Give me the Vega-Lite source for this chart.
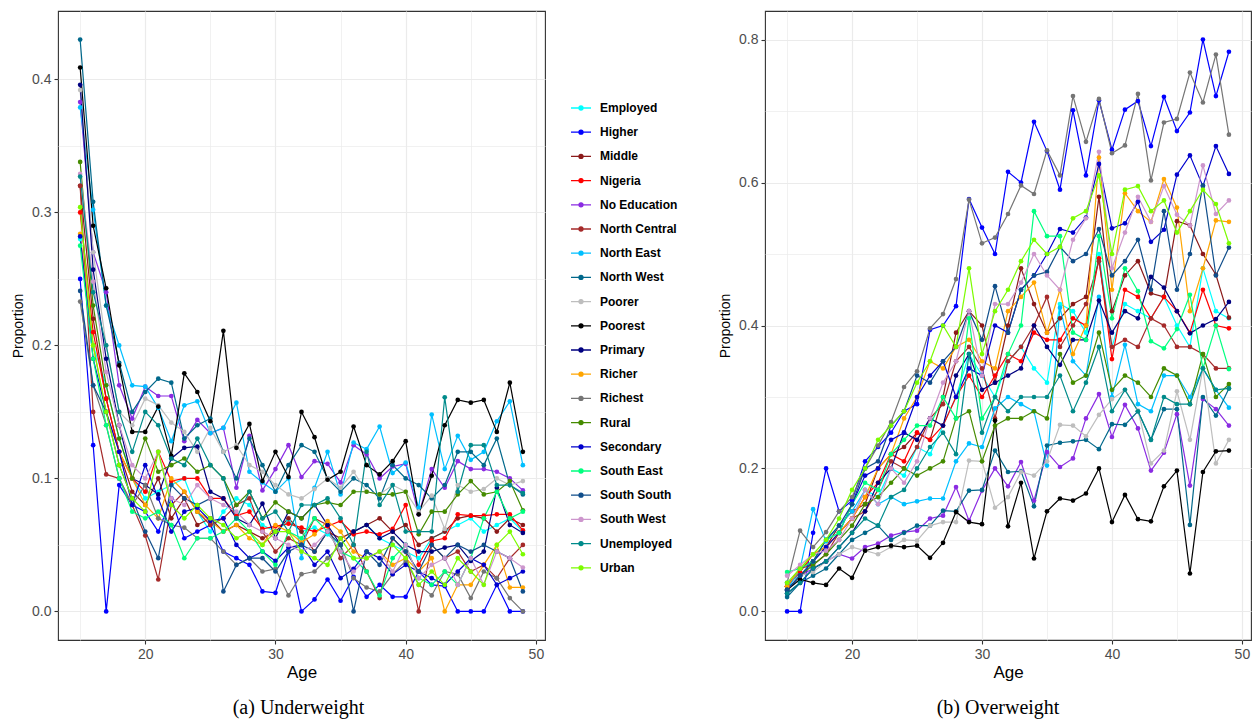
{
  "$schema": "https://vega.github.io/schema/vega-lite/v6.json",
  "background": "white",
  "padding": {"left": 10, "top": 10, "right": 0, "bottom": 0},
  "data": {"values": [
{"g":"Employed","a":15,"u":0.28,"o":0.04},{"g":"Employed","a":16,"u":0.2,"o":0.05},{"g":"Employed","a":17,"u":0.17,"o":0.07},{"g":"Employed","a":18,"u":0.13,"o":0.09},{"g":"Employed","a":19,"u":0.1,"o":0.11},{"g":"Employed","a":20,"u":0.085,"o":0.13},{"g":"Employed","a":21,"u":0.09,"o":0.17},{"g":"Employed","a":22,"u":0.095,"o":0.16},{"g":"Employed","a":23,"u":0.1,"o":0.2},{"g":"Employed","a":24,"u":0.075,"o":0.19},{"g":"Employed","a":25,"u":0.06,"o":0.23},{"g":"Employed","a":26,"u":0.075,"o":0.22},{"g":"Employed","a":27,"u":0.085,"o":0.26},{"g":"Employed","a":28,"u":0.08,"o":0.3},{"g":"Employed","a":29,"u":0.065,"o":0.36},{"g":"Employed","a":30,"u":0.06,"o":0.33},{"g":"Employed","a":31,"u":0.068,"o":0.3},{"g":"Employed","a":32,"u":0.06,"o":0.35},{"g":"Employed","a":33,"u":0.063,"o":0.37},{"g":"Employed","a":34,"u":0.058,"o":0.34},{"g":"Employed","a":35,"u":0.05,"o":0.32},{"g":"Employed","a":36,"u":0.06,"o":0.43},{"g":"Employed","a":37,"u":0.065,"o":0.42},{"g":"Employed","a":38,"u":0.055,"o":0.39},{"g":"Employed","a":39,"u":0.05,"o":0.5},{"g":"Employed","a":40,"u":0.045,"o":0.37},{"g":"Employed","a":41,"u":0.04,"o":0.43},{"g":"Employed","a":42,"u":0.055,"o":0.42},{"g":"Employed","a":43,"u":0.06,"o":0.41},{"g":"Employed","a":44,"u":0.065,"o":0.44},{"g":"Employed","a":45,"u":0.07,"o":0.4},{"g":"Employed","a":46,"u":0.06,"o":0.37},{"g":"Employed","a":47,"u":0.065,"o":0.48},{"g":"Employed","a":48,"u":0.07,"o":0.42},{"g":"Employed","a":49,"u":0.06,"o":0.41},
{"g":"Higher","a":15,"u":0.25,"o":0.0},{"g":"Higher","a":16,"u":0.125,"o":0.0},{"g":"Higher","a":17,"u":0.0,"o":0.11},{"g":"Higher","a":18,"u":0.095,"o":0.2},{"g":"Higher","a":19,"u":0.08,"o":0.14},{"g":"Higher","a":20,"u":0.075,"o":0.155},{"g":"Higher","a":21,"u":0.06,"o":0.21},{"g":"Higher","a":22,"u":0.085,"o":0.23},{"g":"Higher","a":23,"u":0.055,"o":0.25},{"g":"Higher","a":24,"u":0.06,"o":0.28},{"g":"Higher","a":25,"u":0.065,"o":0.29},{"g":"Higher","a":26,"u":0.045,"o":0.394},{"g":"Higher","a":27,"u":0.04,"o":0.4},{"g":"Higher","a":28,"u":0.035,"o":0.427},{"g":"Higher","a":29,"u":0.015,"o":0.577},{"g":"Higher","a":30,"u":0.014,"o":0.537},{"g":"Higher","a":31,"u":0.045,"o":0.5},{"g":"Higher","a":32,"u":0.0,"o":0.615},{"g":"Higher","a":33,"u":0.009,"o":0.6},{"g":"Higher","a":34,"u":0.024,"o":0.685},{"g":"Higher","a":35,"u":0.008,"o":0.644},{"g":"Higher","a":36,"u":0.026,"o":0.59},{"g":"Higher","a":37,"u":0.011,"o":0.701},{"g":"Higher","a":38,"u":0.02,"o":0.61},{"g":"Higher","a":39,"u":0.011,"o":0.715},{"g":"Higher","a":40,"u":0.011,"o":0.646},{"g":"Higher","a":41,"u":0.03,"o":0.702},{"g":"Higher","a":42,"u":0.02,"o":0.714},{"g":"Higher","a":43,"u":0.019,"o":0.651},{"g":"Higher","a":44,"u":0.0,"o":0.72},{"g":"Higher","a":45,"u":0.0,"o":0.672},{"g":"Higher","a":46,"u":0.0,"o":0.698},{"g":"Higher","a":47,"u":0.02,"o":0.8},{"g":"Higher","a":48,"u":0.0,"o":0.721},{"g":"Higher","a":49,"u":0.0,"o":0.783},
{"g":"Middle","a":15,"u":0.32,"o":0.035},{"g":"Middle","a":16,"u":0.22,"o":0.06},{"g":"Middle","a":17,"u":0.16,"o":0.07},{"g":"Middle","a":18,"u":0.12,"o":0.09},{"g":"Middle","a":19,"u":0.09,"o":0.12},{"g":"Middle","a":20,"u":0.08,"o":0.14},{"g":"Middle","a":21,"u":0.1,"o":0.15},{"g":"Middle","a":22,"u":0.07,"o":0.2},{"g":"Middle","a":23,"u":0.085,"o":0.22},{"g":"Middle","a":24,"u":0.065,"o":0.23},{"g":"Middle","a":25,"u":0.07,"o":0.25},{"g":"Middle","a":26,"u":0.06,"o":0.24},{"g":"Middle","a":27,"u":0.065,"o":0.3},{"g":"Middle","a":28,"u":0.06,"o":0.39},{"g":"Middle","a":29,"u":0.055,"o":0.42},{"g":"Middle","a":30,"u":0.06,"o":0.4},{"g":"Middle","a":31,"u":0.07,"o":0.32},{"g":"Middle","a":32,"u":0.06,"o":0.4},{"g":"Middle","a":33,"u":0.045,"o":0.48},{"g":"Middle","a":34,"u":0.06,"o":0.43},{"g":"Middle","a":35,"u":0.055,"o":0.39},{"g":"Middle","a":36,"u":0.06,"o":0.41},{"g":"Middle","a":37,"u":0.065,"o":0.43},{"g":"Middle","a":38,"u":0.07,"o":0.44},{"g":"Middle","a":39,"u":0.06,"o":0.58},{"g":"Middle","a":40,"u":0.065,"o":0.42},{"g":"Middle","a":41,"u":0.05,"o":0.47},{"g":"Middle","a":42,"u":0.055,"o":0.49},{"g":"Middle","a":43,"u":0.06,"o":0.445},{"g":"Middle","a":44,"u":0.07,"o":0.44},{"g":"Middle","a":45,"u":0.072,"o":0.546},{"g":"Middle","a":46,"u":0.07,"o":0.54},{"g":"Middle","a":47,"u":0.06,"o":0.5},{"g":"Middle","a":48,"u":0.07,"o":0.471},{"g":"Middle","a":49,"u":0.065,"o":0.411},
{"g":"Nigeria","a":15,"u":0.3,"o":0.035},{"g":"Nigeria","a":16,"u":0.21,"o":0.055},{"g":"Nigeria","a":17,"u":0.16,"o":0.08},{"g":"Nigeria","a":18,"u":0.12,"o":0.09},{"g":"Nigeria","a":19,"u":0.1,"o":0.11},{"g":"Nigeria","a":20,"u":0.09,"o":0.13},{"g":"Nigeria","a":21,"u":0.12,"o":0.16},{"g":"Nigeria","a":22,"u":0.098,"o":0.18},{"g":"Nigeria","a":23,"u":0.1,"o":0.22},{"g":"Nigeria","a":24,"u":0.1,"o":0.21},{"g":"Nigeria","a":25,"u":0.085,"o":0.25},{"g":"Nigeria","a":26,"u":0.085,"o":0.24},{"g":"Nigeria","a":27,"u":0.072,"o":0.26},{"g":"Nigeria","a":28,"u":0.075,"o":0.3},{"g":"Nigeria","a":29,"u":0.062,"o":0.33},{"g":"Nigeria","a":30,"u":0.064,"o":0.3},{"g":"Nigeria","a":31,"u":0.066,"o":0.33},{"g":"Nigeria","a":32,"u":0.063,"o":0.36},{"g":"Nigeria","a":33,"u":0.06,"o":0.35},{"g":"Nigeria","a":34,"u":0.064,"o":0.39},{"g":"Nigeria","a":35,"u":0.068,"o":0.38},{"g":"Nigeria","a":36,"u":0.058,"o":0.38},{"g":"Nigeria","a":37,"u":0.06,"o":0.41},{"g":"Nigeria","a":38,"u":0.058,"o":0.4},{"g":"Nigeria","a":39,"u":0.062,"o":0.494},{"g":"Nigeria","a":40,"u":0.08,"o":0.353},{"g":"Nigeria","a":41,"u":0.035,"o":0.45},{"g":"Nigeria","a":42,"u":0.053,"o":0.44},{"g":"Nigeria","a":43,"u":0.055,"o":0.41},{"g":"Nigeria","a":44,"u":0.073,"o":0.44},{"g":"Nigeria","a":45,"u":0.072,"o":0.42},{"g":"Nigeria","a":46,"u":0.072,"o":0.39},{"g":"Nigeria","a":47,"u":0.073,"o":0.45},{"g":"Nigeria","a":48,"u":0.073,"o":0.4},{"g":"Nigeria","a":49,"u":0.061,"o":0.396},
{"g":"No Education","a":15,"u":0.383,"o":0.03},{"g":"No Education","a":16,"u":0.27,"o":0.05},{"g":"No Education","a":17,"u":0.24,"o":0.06},{"g":"No Education","a":18,"u":0.17,"o":0.07},{"g":"No Education","a":19,"u":0.145,"o":0.08},{"g":"No Education","a":20,"u":0.169,"o":0.074},{"g":"No Education","a":21,"u":0.162,"o":0.09},{"g":"No Education","a":22,"u":0.162,"o":0.095},{"g":"No Education","a":23,"u":0.128,"o":0.106},{"g":"No Education","a":24,"u":0.144,"o":0.111},{"g":"No Education","a":25,"u":0.134,"o":0.113},{"g":"No Education","a":26,"u":0.138,"o":0.13},{"g":"No Education","a":27,"u":0.093,"o":0.134},{"g":"No Education","a":28,"u":0.132,"o":0.174},{"g":"No Education","a":29,"u":0.091,"o":0.127},{"g":"No Education","a":30,"u":0.107,"o":0.169},{"g":"No Education","a":31,"u":0.125,"o":0.2},{"g":"No Education","a":32,"u":0.101,"o":0.175},{"g":"No Education","a":33,"u":0.113,"o":0.209},{"g":"No Education","a":34,"u":0.111,"o":0.155},{"g":"No Education","a":35,"u":0.097,"o":0.223},{"g":"No Education","a":36,"u":0.125,"o":0.202},{"g":"No Education","a":37,"u":0.118,"o":0.214},{"g":"No Education","a":38,"u":0.1,"o":0.27},{"g":"No Education","a":39,"u":0.109,"o":0.304},{"g":"No Education","a":40,"u":0.111,"o":0.244},{"g":"No Education","a":41,"u":0.073,"o":0.289},{"g":"No Education","a":42,"u":0.107,"o":0.256},{"g":"No Education","a":43,"u":0.093,"o":0.197},{"g":"No Education","a":44,"u":0.113,"o":0.222},{"g":"No Education","a":45,"u":0.107,"o":0.276},{"g":"No Education","a":46,"u":0.107,"o":0.176},{"g":"No Education","a":47,"u":0.105,"o":0.297},{"g":"No Education","a":48,"u":0.1,"o":0.283},{"g":"No Education","a":49,"u":0.091,"o":0.26},
{"g":"North Central","a":15,"u":0.32,"o":0.035},{"g":"North Central","a":16,"u":0.15,"o":0.06},{"g":"North Central","a":17,"u":0.103,"o":0.065},{"g":"North Central","a":18,"u":0.1,"o":0.08},{"g":"North Central","a":19,"u":0.08,"o":0.11},{"g":"North Central","a":20,"u":0.057,"o":0.13},{"g":"North Central","a":21,"u":0.024,"o":0.14},{"g":"North Central","a":22,"u":0.08,"o":0.17},{"g":"North Central","a":23,"u":0.09,"o":0.21},{"g":"North Central","a":24,"u":0.075,"o":0.2},{"g":"North Central","a":25,"u":0.065,"o":0.23},{"g":"North Central","a":26,"u":0.07,"o":0.27},{"g":"North Central","a":27,"u":0.08,"o":0.29},{"g":"North Central","a":28,"u":0.085,"o":0.35},{"g":"North Central","a":29,"u":0.06,"o":0.37},{"g":"North Central","a":30,"u":0.045,"o":0.34},{"g":"North Central","a":31,"u":0.055,"o":0.27},{"g":"North Central","a":32,"u":0.05,"o":0.35},{"g":"North Central","a":33,"u":0.07,"o":0.37},{"g":"North Central","a":34,"u":0.065,"o":0.4},{"g":"North Central","a":35,"u":0.04,"o":0.44},{"g":"North Central","a":36,"u":0.05,"o":0.37},{"g":"North Central","a":37,"u":0.03,"o":0.4},{"g":"North Central","a":38,"u":0.01,"o":0.43},{"g":"North Central","a":39,"u":0.055,"o":0.49},{"g":"North Central","a":40,"u":0.045,"o":0.37},{"g":"North Central","a":41,"u":0.0,"o":0.38},{"g":"North Central","a":42,"u":0.05,"o":0.37},{"g":"North Central","a":43,"u":0.04,"o":0.41},{"g":"North Central","a":44,"u":0.045,"o":0.4},{"g":"North Central","a":45,"u":0.03,"o":0.37},{"g":"North Central","a":46,"u":0.035,"o":0.37},{"g":"North Central","a":47,"u":0.025,"o":0.36},{"g":"North Central","a":48,"u":0.04,"o":0.34},{"g":"North Central","a":49,"u":0.05,"o":0.34},
{"g":"North East","a":15,"u":0.379,"o":0.03},{"g":"North East","a":16,"u":0.302,"o":0.06},{"g":"North East","a":17,"u":0.23,"o":0.143},{"g":"North East","a":18,"u":0.2,"o":0.098},{"g":"North East","a":19,"u":0.17,"o":0.12},{"g":"North East","a":20,"u":0.169,"o":0.14},{"g":"North East","a":21,"u":0.153,"o":0.17},{"g":"North East","a":22,"u":0.128,"o":0.15},{"g":"North East","a":23,"u":0.155,"o":0.16},{"g":"North East","a":24,"u":0.158,"o":0.15},{"g":"North East","a":25,"u":0.134,"o":0.154},{"g":"North East","a":26,"u":0.138,"o":0.158},{"g":"North East","a":27,"u":0.157,"o":0.158},{"g":"North East","a":28,"u":0.105,"o":0.21},{"g":"North East","a":29,"u":0.097,"o":0.235},{"g":"North East","a":30,"u":0.09,"o":0.23},{"g":"North East","a":31,"u":0.1,"o":0.284},{"g":"North East","a":32,"u":0.04,"o":0.3},{"g":"North East","a":33,"u":0.093,"o":0.29},{"g":"North East","a":34,"u":0.12,"o":0.28},{"g":"North East","a":35,"u":0.088,"o":0.204},{"g":"North East","a":36,"u":0.127,"o":0.425},{"g":"North East","a":37,"u":0.122,"o":0.35},{"g":"North East","a":38,"u":0.139,"o":0.33},{"g":"North East","a":39,"u":0.104,"o":0.44},{"g":"North East","a":40,"u":0.112,"o":0.3},{"g":"North East","a":41,"u":0.078,"o":0.373},{"g":"North East","a":42,"u":0.148,"o":0.29},{"g":"North East","a":43,"u":0.107,"o":0.28},{"g":"North East","a":44,"u":0.132,"o":0.33},{"g":"North East","a":45,"u":0.114,"o":0.33},{"g":"North East","a":46,"u":0.12,"o":0.3},{"g":"North East","a":47,"u":0.143,"o":0.34},{"g":"North East","a":48,"u":0.158,"o":0.31},{"g":"North East","a":49,"u":0.11,"o":0.285},
{"g":"North West","a":15,"u":0.43,"o":0.02},{"g":"North West","a":16,"u":0.308,"o":0.04},{"g":"North West","a":17,"u":0.23,"o":0.05},{"g":"North West","a":18,"u":0.187,"o":0.06},{"g":"North West","a":19,"u":0.15,"o":0.08},{"g":"North West","a":20,"u":0.165,"o":0.1},{"g":"North West","a":21,"u":0.175,"o":0.11},{"g":"North West","a":22,"u":0.172,"o":0.12},{"g":"North West","a":23,"u":0.13,"o":0.1},{"g":"North West","a":24,"u":0.14,"o":0.11},{"g":"North West","a":25,"u":0.145,"o":0.12},{"g":"North West","a":26,"u":0.12,"o":0.12},{"g":"North West","a":27,"u":0.1,"o":0.141},{"g":"North West","a":28,"u":0.13,"o":0.14},{"g":"North West","a":29,"u":0.11,"o":0.169},{"g":"North West","a":30,"u":0.09,"o":0.17},{"g":"North West","a":31,"u":0.11,"o":0.225},{"g":"North West","a":32,"u":0.125,"o":0.195},{"g":"North West","a":33,"u":0.12,"o":0.196},{"g":"North West","a":34,"u":0.1,"o":0.147},{"g":"North West","a":35,"u":0.09,"o":0.232},{"g":"North West","a":36,"u":0.1,"o":0.236},{"g":"North West","a":37,"u":0.095,"o":0.238},{"g":"North West","a":38,"u":0.085,"o":0.24},{"g":"North West","a":39,"u":0.11,"o":0.227},{"g":"North West","a":40,"u":0.1,"o":0.262},{"g":"North West","a":41,"u":0.095,"o":0.261},{"g":"North West","a":42,"u":0.085,"o":0.28},{"g":"North West","a":43,"u":0.095,"o":0.24},{"g":"North West","a":44,"u":0.12,"o":0.283},{"g":"North West","a":45,"u":0.12,"o":0.283},{"g":"North West","a":46,"u":0.11,"o":0.121},{"g":"North West","a":47,"u":0.13,"o":0.3},{"g":"North West","a":48,"u":0.095,"o":0.274},{"g":"North West","a":49,"u":0.088,"o":0.312},
{"g":"Poorer","a":15,"u":0.392,"o":0.03},{"g":"Poorer","a":16,"u":0.27,"o":0.05},{"g":"Poorer","a":17,"u":0.2,"o":0.055},{"g":"Poorer","a":18,"u":0.15,"o":0.07},{"g":"Poorer","a":19,"u":0.14,"o":0.08},{"g":"Poorer","a":20,"u":0.16,"o":0.09},{"g":"Poorer","a":21,"u":0.155,"o":0.085},{"g":"Poorer","a":22,"u":0.142,"o":0.08},{"g":"Poorer","a":23,"u":0.135,"o":0.09},{"g":"Poorer","a":24,"u":0.12,"o":0.1},{"g":"Poorer","a":25,"u":0.138,"o":0.099},{"g":"Poorer","a":26,"u":0.12,"o":0.12},{"g":"Poorer","a":27,"u":0.125,"o":0.125},{"g":"Poorer","a":28,"u":0.11,"o":0.125},{"g":"Poorer","a":29,"u":0.105,"o":0.211},{"g":"Poorer","a":30,"u":0.095,"o":0.21},{"g":"Poorer","a":31,"u":0.088,"o":0.145},{"g":"Poorer","a":32,"u":0.085,"o":0.16},{"g":"Poorer","a":33,"u":0.092,"o":0.195},{"g":"Poorer","a":34,"u":0.1,"o":0.19},{"g":"Poorer","a":35,"u":0.093,"o":0.21},{"g":"Poorer","a":36,"u":0.105,"o":0.261},{"g":"Poorer","a":37,"u":0.09,"o":0.26},{"g":"Poorer","a":38,"u":0.088,"o":0.245},{"g":"Poorer","a":39,"u":0.095,"o":0.275},{"g":"Poorer","a":40,"u":0.09,"o":0.297},{"g":"Poorer","a":41,"u":0.075,"o":0.31},{"g":"Poorer","a":42,"u":0.087,"o":0.281},{"g":"Poorer","a":43,"u":0.062,"o":0.207},{"g":"Poorer","a":44,"u":0.095,"o":0.225},{"g":"Poorer","a":45,"u":0.09,"o":0.308},{"g":"Poorer","a":46,"u":0.092,"o":0.24},{"g":"Poorer","a":47,"u":0.1,"o":0.34},{"g":"Poorer","a":48,"u":0.095,"o":0.207},{"g":"Poorer","a":49,"u":0.098,"o":0.24},
{"g":"Poorest","a":15,"u":0.409,"o":0.03},{"g":"Poorest","a":16,"u":0.29,"o":0.045},{"g":"Poorest","a":17,"u":0.243,"o":0.04},{"g":"Poorest","a":18,"u":0.185,"o":0.037},{"g":"Poorest","a":19,"u":0.135,"o":0.06},{"g":"Poorest","a":20,"u":0.135,"o":0.047},{"g":"Poorest","a":21,"u":0.154,"o":0.085},{"g":"Poorest","a":22,"u":0.117,"o":0.09},{"g":"Poorest","a":23,"u":0.179,"o":0.092},{"g":"Poorest","a":24,"u":0.165,"o":0.09},{"g":"Poorest","a":25,"u":0.143,"o":0.092},{"g":"Poorest","a":26,"u":0.211,"o":0.075},{"g":"Poorest","a":27,"u":0.123,"o":0.096},{"g":"Poorest","a":28,"u":0.141,"o":0.139},{"g":"Poorest","a":29,"u":0.098,"o":0.125},{"g":"Poorest","a":30,"u":0.12,"o":0.122},{"g":"Poorest","a":31,"u":0.101,"o":0.267},{"g":"Poorest","a":32,"u":0.15,"o":0.119},{"g":"Poorest","a":33,"u":0.131,"o":0.18},{"g":"Poorest","a":34,"u":0.099,"o":0.074},{"g":"Poorest","a":35,"u":0.105,"o":0.14},{"g":"Poorest","a":36,"u":0.139,"o":0.158},{"g":"Poorest","a":37,"u":0.11,"o":0.155},{"g":"Poorest","a":38,"u":0.103,"o":0.165},{"g":"Poorest","a":39,"u":0.113,"o":0.2},{"g":"Poorest","a":40,"u":0.128,"o":0.125},{"g":"Poorest","a":41,"u":0.073,"o":0.163},{"g":"Poorest","a":42,"u":0.102,"o":0.129},{"g":"Poorest","a":43,"u":0.14,"o":0.126},{"g":"Poorest","a":44,"u":0.159,"o":0.175},{"g":"Poorest","a":45,"u":0.157,"o":0.197},{"g":"Poorest","a":46,"u":0.159,"o":0.053},{"g":"Poorest","a":47,"u":0.135,"o":0.195},{"g":"Poorest","a":48,"u":0.172,"o":0.224},{"g":"Poorest","a":49,"u":0.12,"o":0.225},
{"g":"Primary","a":15,"u":0.396,"o":0.025},{"g":"Primary","a":16,"u":0.257,"o":0.04},{"g":"Primary","a":17,"u":0.19,"o":0.06},{"g":"Primary","a":18,"u":0.14,"o":0.07},{"g":"Primary","a":19,"u":0.1,"o":0.09},{"g":"Primary","a":20,"u":0.095,"o":0.11},{"g":"Primary","a":21,"u":0.088,"o":0.14},{"g":"Primary","a":22,"u":0.115,"o":0.18},{"g":"Primary","a":23,"u":0.123,"o":0.2},{"g":"Primary","a":24,"u":0.124,"o":0.25},{"g":"Primary","a":25,"u":0.09,"o":0.24},{"g":"Primary","a":26,"u":0.085,"o":0.27},{"g":"Primary","a":27,"u":0.07,"o":0.26},{"g":"Primary","a":28,"u":0.065,"o":0.33},{"g":"Primary","a":29,"u":0.081,"o":0.36},{"g":"Primary","a":30,"u":0.055,"o":0.31},{"g":"Primary","a":31,"u":0.075,"o":0.32},{"g":"Primary","a":32,"u":0.07,"o":0.33},{"g":"Primary","a":33,"u":0.08,"o":0.34},{"g":"Primary","a":34,"u":0.065,"o":0.4},{"g":"Primary","a":35,"u":0.05,"o":0.37},{"g":"Primary","a":36,"u":0.06,"o":0.345},{"g":"Primary","a":37,"u":0.065,"o":0.38},{"g":"Primary","a":38,"u":0.055,"o":0.38},{"g":"Primary","a":39,"u":0.06,"o":0.435},{"g":"Primary","a":40,"u":0.05,"o":0.39},{"g":"Primary","a":41,"u":0.045,"o":0.42},{"g":"Primary","a":42,"u":0.045,"o":0.41},{"g":"Primary","a":43,"u":0.048,"o":0.468},{"g":"Primary","a":44,"u":0.05,"o":0.453},{"g":"Primary","a":45,"u":0.038,"o":0.42},{"g":"Primary","a":46,"u":0.045,"o":0.389},{"g":"Primary","a":47,"u":0.093,"o":0.4},{"g":"Primary","a":48,"u":0.065,"o":0.409},{"g":"Primary","a":49,"u":0.059,"o":0.433},
{"g":"Richer","a":15,"u":0.284,"o":0.035},{"g":"Richer","a":16,"u":0.2,"o":0.06},{"g":"Richer","a":17,"u":0.15,"o":0.08},{"g":"Richer","a":18,"u":0.12,"o":0.09},{"g":"Richer","a":19,"u":0.1,"o":0.11},{"g":"Richer","a":20,"u":0.08,"o":0.13},{"g":"Richer","a":21,"u":0.07,"o":0.16},{"g":"Richer","a":22,"u":0.1,"o":0.2},{"g":"Richer","a":23,"u":0.09,"o":0.22},{"g":"Richer","a":24,"u":0.075,"o":0.27},{"g":"Richer","a":25,"u":0.068,"o":0.3},{"g":"Richer","a":26,"u":0.06,"o":0.35},{"g":"Richer","a":27,"u":0.065,"o":0.34},{"g":"Richer","a":28,"u":0.055,"o":0.37},{"g":"Richer","a":29,"u":0.05,"o":0.38},{"g":"Richer","a":30,"u":0.065,"o":0.35},{"g":"Richer","a":31,"u":0.06,"o":0.34},{"g":"Richer","a":32,"u":0.052,"o":0.42},{"g":"Richer","a":33,"u":0.058,"o":0.44},{"g":"Richer","a":34,"u":0.068,"o":0.46},{"g":"Richer","a":35,"u":0.06,"o":0.39},{"g":"Richer","a":36,"u":0.045,"o":0.45},{"g":"Richer","a":37,"u":0.04,"o":0.36},{"g":"Richer","a":38,"u":0.045,"o":0.4},{"g":"Richer","a":39,"u":0.035,"o":0.635},{"g":"Richer","a":40,"u":0.04,"o":0.45},{"g":"Richer","a":41,"u":0.03,"o":0.585},{"g":"Richer","a":42,"u":0.04,"o":0.56},{"g":"Richer","a":43,"u":0.0,"o":0.545},{"g":"Richer","a":44,"u":0.02,"o":0.605},{"g":"Richer","a":45,"u":0.02,"o":0.565},{"g":"Richer","a":46,"u":0.035,"o":0.42},{"g":"Richer","a":47,"u":0.05,"o":0.48},{"g":"Richer","a":48,"u":0.018,"o":0.547},{"g":"Richer","a":49,"u":0.018,"o":0.545},
{"g":"Richest","a":15,"u":0.233,"o":0.04},{"g":"Richest","a":16,"u":0.17,"o":0.113},{"g":"Richest","a":17,"u":0.14,"o":0.09},{"g":"Richest","a":18,"u":0.1,"o":0.111},{"g":"Richest","a":19,"u":0.08,"o":0.14},{"g":"Richest","a":20,"u":0.095,"o":0.16},{"g":"Richest","a":21,"u":0.07,"o":0.2},{"g":"Richest","a":22,"u":0.065,"o":0.232},{"g":"Richest","a":23,"u":0.063,"o":0.265},{"g":"Richest","a":24,"u":0.055,"o":0.314},{"g":"Richest","a":25,"u":0.055,"o":0.336},{"g":"Richest","a":26,"u":0.045,"o":0.396},{"g":"Richest","a":27,"u":0.035,"o":0.416},{"g":"Richest","a":28,"u":0.04,"o":0.465},{"g":"Richest","a":29,"u":0.03,"o":0.576},{"g":"Richest","a":30,"u":0.032,"o":0.515},{"g":"Richest","a":31,"u":0.012,"o":0.523},{"g":"Richest","a":32,"u":0.028,"o":0.556},{"g":"Richest","a":33,"u":0.03,"o":0.596},{"g":"Richest","a":34,"u":0.04,"o":0.584},{"g":"Richest","a":35,"u":0.05,"o":0.645},{"g":"Richest","a":36,"u":0.025,"o":0.61},{"g":"Richest","a":37,"u":0.018,"o":0.721},{"g":"Richest","a":38,"u":0.015,"o":0.657},{"g":"Richest","a":39,"u":0.028,"o":0.717},{"g":"Richest","a":40,"u":0.038,"o":0.641},{"g":"Richest","a":41,"u":0.02,"o":0.652},{"g":"Richest","a":42,"u":0.012,"o":0.724},{"g":"Richest","a":43,"u":0.03,"o":0.603},{"g":"Richest","a":44,"u":0.028,"o":0.684},{"g":"Richest","a":45,"u":0.01,"o":0.689},{"g":"Richest","a":46,"u":0.03,"o":0.754},{"g":"Richest","a":47,"u":0.025,"o":0.712},{"g":"Richest","a":48,"u":0.01,"o":0.779},{"g":"Richest","a":49,"u":0.0,"o":0.667},
{"g":"Rural","a":15,"u":0.338,"o":0.03},{"g":"Rural","a":16,"u":0.23,"o":0.05},{"g":"Rural","a":17,"u":0.17,"o":0.065},{"g":"Rural","a":18,"u":0.13,"o":0.08},{"g":"Rural","a":19,"u":0.1,"o":0.1},{"g":"Rural","a":20,"u":0.13,"o":0.12},{"g":"Rural","a":21,"u":0.105,"o":0.15},{"g":"Rural","a":22,"u":0.11,"o":0.16},{"g":"Rural","a":23,"u":0.115,"o":0.18},{"g":"Rural","a":24,"u":0.105,"o":0.2},{"g":"Rural","a":25,"u":0.11,"o":0.19},{"g":"Rural","a":26,"u":0.1,"o":0.2},{"g":"Rural","a":27,"u":0.08,"o":0.21},{"g":"Rural","a":28,"u":0.09,"o":0.27},{"g":"Rural","a":29,"u":0.07,"o":0.28},{"g":"Rural","a":30,"u":0.082,"o":0.21},{"g":"Rural","a":31,"u":0.075,"o":0.26},{"g":"Rural","a":32,"u":0.07,"o":0.27},{"g":"Rural","a":33,"u":0.08,"o":0.27},{"g":"Rural","a":34,"u":0.082,"o":0.28},{"g":"Rural","a":35,"u":0.08,"o":0.27},{"g":"Rural","a":36,"u":0.09,"o":0.36},{"g":"Rural","a":37,"u":0.09,"o":0.32},{"g":"Rural","a":38,"u":0.088,"o":0.33},{"g":"Rural","a":39,"u":0.088,"o":0.39},{"g":"Rural","a":40,"u":0.09,"o":0.31},{"g":"Rural","a":41,"u":0.058,"o":0.33},{"g":"Rural","a":42,"u":0.075,"o":0.32},{"g":"Rural","a":43,"u":0.075,"o":0.3},{"g":"Rural","a":44,"u":0.088,"o":0.34},{"g":"Rural","a":45,"u":0.098,"o":0.33},{"g":"Rural","a":46,"u":0.088,"o":0.29},{"g":"Rural","a":47,"u":0.09,"o":0.36},{"g":"Rural","a":48,"u":0.098,"o":0.3},{"g":"Rural","a":49,"u":0.076,"o":0.318},
{"g":"Secondary","a":15,"u":0.282,"o":0.03},{"g":"Secondary","a":16,"u":0.19,"o":0.05},{"g":"Secondary","a":17,"u":0.15,"o":0.07},{"g":"Secondary","a":18,"u":0.12,"o":0.09},{"g":"Secondary","a":19,"u":0.08,"o":0.11},{"g":"Secondary","a":20,"u":0.11,"o":0.15},{"g":"Secondary","a":21,"u":0.085,"o":0.19},{"g":"Secondary","a":22,"u":0.06,"o":0.2},{"g":"Secondary","a":23,"u":0.075,"o":0.24},{"g":"Secondary","a":24,"u":0.078,"o":0.25},{"g":"Secondary","a":25,"u":0.068,"o":0.3},{"g":"Secondary","a":26,"u":0.07,"o":0.33},{"g":"Secondary","a":27,"u":0.05,"o":0.35},{"g":"Secondary","a":28,"u":0.04,"o":0.3},{"g":"Secondary","a":29,"u":0.045,"o":0.34},{"g":"Secondary","a":30,"u":0.038,"o":0.33},{"g":"Secondary","a":31,"u":0.048,"o":0.4},{"g":"Secondary","a":32,"u":0.05,"o":0.39},{"g":"Secondary","a":33,"u":0.035,"o":0.45},{"g":"Secondary","a":34,"u":0.045,"o":0.47},{"g":"Secondary","a":35,"u":0.025,"o":0.5},{"g":"Secondary","a":36,"u":0.032,"o":0.535},{"g":"Secondary","a":37,"u":0.045,"o":0.53},{"g":"Secondary","a":38,"u":0.04,"o":0.551},{"g":"Secondary","a":39,"u":0.028,"o":0.626},{"g":"Secondary","a":40,"u":0.035,"o":0.536},{"g":"Secondary","a":41,"u":0.03,"o":0.543},{"g":"Secondary","a":42,"u":0.025,"o":0.573},{"g":"Secondary","a":43,"u":0.02,"o":0.517},{"g":"Secondary","a":44,"u":0.03,"o":0.534},{"g":"Secondary","a":45,"u":0.04,"o":0.611},{"g":"Secondary","a":46,"u":0.035,"o":0.638},{"g":"Secondary","a":47,"u":0.02,"o":0.595},{"g":"Secondary","a":48,"u":0.025,"o":0.651},{"g":"Secondary","a":49,"u":0.03,"o":0.612},
{"g":"South East","a":15,"u":0.275,"o":0.055},{"g":"South East","a":16,"u":0.19,"o":0.06},{"g":"South East","a":17,"u":0.14,"o":0.07},{"g":"South East","a":18,"u":0.1,"o":0.1},{"g":"South East","a":19,"u":0.075,"o":0.11},{"g":"South East","a":20,"u":0.07,"o":0.15},{"g":"South East","a":21,"u":0.075,"o":0.18},{"g":"South East","a":22,"u":0.065,"o":0.17},{"g":"South East","a":23,"u":0.04,"o":0.22},{"g":"South East","a":24,"u":0.055,"o":0.24},{"g":"South East","a":25,"u":0.055,"o":0.26},{"g":"South East","a":26,"u":0.06,"o":0.26},{"g":"South East","a":27,"u":0.07,"o":0.3},{"g":"South East","a":28,"u":0.06,"o":0.27},{"g":"South East","a":29,"u":0.045,"o":0.41},{"g":"South East","a":30,"u":0.035,"o":0.27},{"g":"South East","a":31,"u":0.06,"o":0.3},{"g":"South East","a":32,"u":0.055,"o":0.36},{"g":"South East","a":33,"u":0.07,"o":0.4},{"g":"South East","a":34,"u":0.06,"o":0.56},{"g":"South East","a":35,"u":0.045,"o":0.525},{"g":"South East","a":36,"u":0.04,"o":0.525},{"g":"South East","a":37,"u":0.03,"o":0.39},{"g":"South East","a":38,"u":0.012,"o":0.38},{"g":"South East","a":39,"u":0.04,"o":0.525},{"g":"South East","a":40,"u":0.05,"o":0.41},{"g":"South East","a":41,"u":0.025,"o":0.48},{"g":"South East","a":42,"u":0.02,"o":0.448},{"g":"South East","a":43,"u":0.03,"o":0.378},{"g":"South East","a":44,"u":0.02,"o":0.368},{"g":"South East","a":45,"u":0.04,"o":0.395},{"g":"South East","a":46,"u":0.07,"o":0.443},{"g":"South East","a":47,"u":0.09,"o":0.34},{"g":"South East","a":48,"u":0.07,"o":0.4},{"g":"South East","a":49,"u":0.075,"o":0.339},
{"g":"South South","a":15,"u":0.241,"o":0.03},{"g":"South South","a":16,"u":0.17,"o":0.05},{"g":"South South","a":17,"u":0.15,"o":0.07},{"g":"South South","a":18,"u":0.11,"o":0.1},{"g":"South South","a":19,"u":0.085,"o":0.12},{"g":"South South","a":20,"u":0.06,"o":0.15},{"g":"South South","a":21,"u":0.04,"o":0.2},{"g":"South South","a":22,"u":0.095,"o":0.21},{"g":"South South","a":23,"u":0.085,"o":0.26},{"g":"South South","a":24,"u":0.08,"o":0.28},{"g":"South South","a":25,"u":0.085,"o":0.33},{"g":"South South","a":26,"u":0.015,"o":0.32},{"g":"South South","a":27,"u":0.035,"o":0.35},{"g":"South South","a":28,"u":0.04,"o":0.37},{"g":"South South","a":29,"u":0.04,"o":0.42},{"g":"South South","a":30,"u":0.03,"o":0.38},{"g":"South South","a":31,"u":0.045,"o":0.455},{"g":"South South","a":32,"u":0.05,"o":0.39},{"g":"South South","a":33,"u":0.045,"o":0.45},{"g":"South South","a":34,"u":0.06,"o":0.47},{"g":"South South","a":35,"u":0.05,"o":0.475},{"g":"South South","a":36,"u":0.0,"o":0.51},{"g":"South South","a":37,"u":0.045,"o":0.49},{"g":"South South","a":38,"u":0.035,"o":0.5},{"g":"South South","a":39,"u":0.055,"o":0.535},{"g":"South South","a":40,"u":0.045,"o":0.47},{"g":"South South","a":41,"u":0.03,"o":0.49},{"g":"South South","a":42,"u":0.05,"o":0.52},{"g":"South South","a":43,"u":0.04,"o":0.45},{"g":"South South","a":44,"u":0.05,"o":0.56},{"g":"South South","a":45,"u":0.045,"o":0.45},{"g":"South South","a":46,"u":0.05,"o":0.5},{"g":"South South","a":47,"u":0.045,"o":0.596},{"g":"South South","a":48,"u":0.04,"o":0.47},{"g":"South South","a":49,"u":0.015,"o":0.509},
{"g":"South West","a":15,"u":0.329,"o":0.05},{"g":"South West","a":16,"u":0.248,"o":0.065},{"g":"South West","a":17,"u":0.18,"o":0.08},{"g":"South West","a":18,"u":0.14,"o":0.085},{"g":"South West","a":19,"u":0.11,"o":0.1},{"g":"South West","a":20,"u":0.1,"o":0.13},{"g":"South West","a":21,"u":0.12,"o":0.17},{"g":"South West","a":22,"u":0.085,"o":0.15},{"g":"South West","a":23,"u":0.08,"o":0.2},{"g":"South West","a":24,"u":0.095,"o":0.18},{"g":"South West","a":25,"u":0.085,"o":0.21},{"g":"South West","a":26,"u":0.08,"o":0.27},{"g":"South West","a":27,"u":0.075,"o":0.32},{"g":"South West","a":28,"u":0.065,"o":0.35},{"g":"South West","a":29,"u":0.06,"o":0.42},{"g":"South West","a":30,"u":0.055,"o":0.33},{"g":"South West","a":31,"u":0.05,"o":0.43},{"g":"South West","a":32,"u":0.045,"o":0.43},{"g":"South West","a":33,"u":0.05,"o":0.46},{"g":"South West","a":34,"u":0.06,"o":0.5},{"g":"South West","a":35,"u":0.045,"o":0.47},{"g":"South West","a":36,"u":0.03,"o":0.45},{"g":"South West","a":37,"u":0.04,"o":0.52},{"g":"South West","a":38,"u":0.045,"o":0.55},{"g":"South West","a":39,"u":0.03,"o":0.643},{"g":"South West","a":40,"u":0.05,"o":0.48},{"g":"South West","a":41,"u":0.025,"o":0.53},{"g":"South West","a":42,"u":0.035,"o":0.58},{"g":"South West","a":43,"u":0.04,"o":0.545},{"g":"South West","a":44,"u":0.02,"o":0.595},{"g":"South West","a":45,"u":0.04,"o":0.555},{"g":"South West","a":46,"u":0.02,"o":0.54},{"g":"South West","a":47,"u":0.045,"o":0.624},{"g":"South West","a":48,"u":0.04,"o":0.556},{"g":"South West","a":49,"u":0.033,"o":0.575},
{"g":"Unemployed","a":15,"u":0.327,"o":0.025},{"g":"Unemployed","a":16,"u":0.24,"o":0.04},{"g":"Unemployed","a":17,"u":0.2,"o":0.06},{"g":"Unemployed","a":18,"u":0.15,"o":0.07},{"g":"Unemployed","a":19,"u":0.12,"o":0.09},{"g":"Unemployed","a":20,"u":0.15,"o":0.11},{"g":"Unemployed","a":21,"u":0.14,"o":0.13},{"g":"Unemployed","a":22,"u":0.115,"o":0.12},{"g":"Unemployed","a":23,"u":0.11,"o":0.16},{"g":"Unemployed","a":24,"u":0.13,"o":0.17},{"g":"Unemployed","a":25,"u":0.11,"o":0.2},{"g":"Unemployed","a":26,"u":0.1,"o":0.23},{"g":"Unemployed","a":27,"u":0.07,"o":0.25},{"g":"Unemployed","a":28,"u":0.09,"o":0.22},{"g":"Unemployed","a":29,"u":0.07,"o":0.36},{"g":"Unemployed","a":30,"u":0.075,"o":0.25},{"g":"Unemployed","a":31,"u":0.06,"o":0.3},{"g":"Unemployed","a":32,"u":0.08,"o":0.28},{"g":"Unemployed","a":33,"u":0.08,"o":0.3},{"g":"Unemployed","a":34,"u":0.085,"o":0.3},{"g":"Unemployed","a":35,"u":0.07,"o":0.3},{"g":"Unemployed","a":36,"u":0.05,"o":0.33},{"g":"Unemployed","a":37,"u":0.12,"o":0.28},{"g":"Unemployed","a":38,"u":0.08,"o":0.32},{"g":"Unemployed","a":39,"u":0.095,"o":0.37},{"g":"Unemployed","a":40,"u":0.06,"o":0.28},{"g":"Unemployed","a":41,"u":0.06,"o":0.31},{"g":"Unemployed","a":42,"u":0.06,"o":0.28},{"g":"Unemployed","a":43,"u":0.161,"o":0.24},{"g":"Unemployed","a":44,"u":0.09,"o":0.3},{"g":"Unemployed","a":45,"u":0.125,"o":0.29},{"g":"Unemployed","a":46,"u":0.125,"o":0.29},{"g":"Unemployed","a":47,"u":0.095,"o":0.34},{"g":"Unemployed","a":48,"u":0.095,"o":0.31},{"g":"Unemployed","a":49,"u":0.089,"o":0.312},
{"g":"Urban","a":15,"u":0.304,"o":0.04},{"g":"Urban","a":16,"u":0.2,"o":0.06},{"g":"Urban","a":17,"u":0.15,"o":0.08},{"g":"Urban","a":18,"u":0.11,"o":0.1},{"g":"Urban","a":19,"u":0.085,"o":0.13},{"g":"Urban","a":20,"u":0.075,"o":0.17},{"g":"Urban","a":21,"u":0.12,"o":0.2},{"g":"Urban","a":22,"u":0.08,"o":0.24},{"g":"Urban","a":23,"u":0.07,"o":0.26},{"g":"Urban","a":24,"u":0.08,"o":0.28},{"g":"Urban","a":25,"u":0.07,"o":0.32},{"g":"Urban","a":26,"u":0.065,"o":0.35},{"g":"Urban","a":27,"u":0.055,"o":0.4},{"g":"Urban","a":28,"u":0.06,"o":0.37},{"g":"Urban","a":29,"u":0.05,"o":0.48},{"g":"Urban","a":30,"u":0.06,"o":0.36},{"g":"Urban","a":31,"u":0.06,"o":0.42},{"g":"Urban","a":32,"u":0.045,"o":0.45},{"g":"Urban","a":33,"u":0.04,"o":0.49},{"g":"Urban","a":34,"u":0.035,"o":0.52},{"g":"Urban","a":35,"u":0.055,"o":0.5},{"g":"Urban","a":36,"u":0.04,"o":0.51},{"g":"Urban","a":37,"u":0.04,"o":0.55},{"g":"Urban","a":38,"u":0.045,"o":0.56},{"g":"Urban","a":39,"u":0.05,"o":0.61},{"g":"Urban","a":40,"u":0.04,"o":0.5},{"g":"Urban","a":41,"u":0.02,"o":0.59},{"g":"Urban","a":42,"u":0.03,"o":0.595},{"g":"Urban","a":43,"u":0.02,"o":0.56},{"g":"Urban","a":44,"u":0.04,"o":0.575},{"g":"Urban","a":45,"u":0.03,"o":0.53},{"g":"Urban","a":46,"u":0.02,"o":0.56},{"g":"Urban","a":47,"u":0.05,"o":0.59},{"g":"Urban","a":48,"u":0.06,"o":0.57},{"g":"Urban","a":49,"u":0.043,"o":0.515}
  ]},
  "spacing": 38,
  "resolve": {"scale": {"color": "independent"}, "legend": {"color": "independent"}},
  "hconcat": [
    {
      "width": 487,
      "height": 629,
      "title": {"text": "(a) Underweight", "orient": "bottom", "anchor": "middle", "offset": 18, "dx": -3},
      "encoding": {
        "x": {
          "field": "a", "type": "quantitative", "title": "Age",
          "scale": {"domain": [13.3, 50.7], "nice": false, "zero": false},
          "axis": {
            "values": [15, 20, 25, 30, 35, 40, 45, 50],
            "labelExpr": "datum.value % 10 == 0 ? datum.label : ''",
            "tickOpacity": {"condition": {"test": "datum.value % 10 != 0", "value": 0}, "value": 1},
            "gridWidth": {"condition": {"test": "datum.value % 10 != 0", "value": 0.7}, "value": 1.2}
          }
        },
        "y": {
          "field": "u", "type": "quantitative", "title": "Proportion",
          "scale": {"domain": [-0.0215, 0.4515], "nice": false, "zero": false},
          "axis": {
            "values": [0, 0.05, 0.1, 0.15, 0.2, 0.25, 0.3, 0.35, 0.4],
            "labelExpr": "round(datum.value * 100) % 10 == 0 ? format(datum.value, '.1f') : ''",
            "tickOpacity": {"condition": {"test": "round(datum.value * 100) % 10 != 0", "value": 0}, "value": 1},
            "gridWidth": {"condition": {"test": "round(datum.value * 100) % 10 != 0", "value": 0.7}, "value": 1.2}
          }
        },
        "color": {
          "field": "g", "type": "nominal",
          "scale": {
            "domain": ["Employed", "Higher", "Middle", "Nigeria", "No Education", "North Central", "North East", "North West", "Poorer", "Poorest", "Primary", "Richer", "Richest", "Rural", "Secondary", "South East", "South South", "South West", "Unemployed", "Urban"],
            "range": ["#00FFFF", "#0000FF", "#8B1A1A", "#FF0000", "#8A2BE2", "#A52A2A", "#00BFFF", "#00688B", "#BEBEBE", "#000000", "#000080", "#FFA500", "#757575", "#458B00", "#0000CD", "#00FF7F", "#104E8B", "#CD96CD", "#008B8B", "#7CFC00"]
          },
          "legend": {
            "orient": "none", "legendX": 512, "legendY": 86, "title": null, "padding": 0,
            "symbolType": "M-1,0H1M-0.2,0A0.2,0.2,0,1,1,0.2,0A0.2,0.2,0,1,1,-0.2,0M-0.08,0A0.08,0.08,0,1,1,0.08,0A0.08,0.08,0,1,1,-0.08,0",
            "symbolSize": 400, "symbolStrokeWidth": 1.3, "symbolOpacity": 1,
            "labelFont": "Liberation Sans", "labelFontSize": 12, "labelFontWeight": "bold", "labelColor": "#000000",
            "labelOffset": 8, "rowPadding": 7.2
          }
        }
      },
      "layer": [
        {"mark": {"type": "line", "strokeWidth": 1.2}},
        {"mark": {"type": "point", "filled": true, "size": 22, "opacity": 1}}
      ]
    },
    {
      "width": 486,
      "height": 629,
      "title": {"text": "(b) Overweight", "orient": "bottom", "anchor": "middle", "offset": 18, "dx": -10},
      "encoding": {
        "x": {
          "field": "a", "type": "quantitative", "title": "Age",
          "scale": {"domain": [13.3, 50.7], "nice": false, "zero": false},
          "axis": {
            "values": [15, 20, 25, 30, 35, 40, 45, 50],
            "labelExpr": "datum.value % 10 == 0 ? datum.label : ''",
            "tickOpacity": {"condition": {"test": "datum.value % 10 != 0", "value": 0}, "value": 1},
            "gridWidth": {"condition": {"test": "datum.value % 10 != 0", "value": 0.7}, "value": 1.2}
          }
        },
        "y": {
          "field": "o", "type": "quantitative", "title": "Proportion",
          "scale": {"domain": [-0.04, 0.84], "nice": false, "zero": false},
          "axis": {
            "values": [0, 0.1, 0.2, 0.3, 0.4, 0.5, 0.6, 0.7, 0.8],
            "labelExpr": "round(datum.value * 10) % 2 == 0 ? format(datum.value, '.1f') : ''",
            "tickOpacity": {"condition": {"test": "round(datum.value * 10) % 2 != 0", "value": 0}, "value": 1},
            "gridWidth": {"condition": {"test": "round(datum.value * 10) % 2 != 0", "value": 0.7}, "value": 1.2}
          }
        },
        "color": {
          "field": "g", "type": "nominal",
          "scale": {
            "domain": ["Employed", "Higher", "Middle", "Nigeria", "No Education", "North Central", "North East", "North West", "Poorer", "Poorest", "Primary", "Richer", "Richest", "Rural", "Secondary", "South East", "South South", "South West", "Unemployed", "Urban"],
            "range": ["#00FFFF", "#0000FF", "#8B1A1A", "#FF0000", "#8A2BE2", "#A52A2A", "#00BFFF", "#00688B", "#BEBEBE", "#000000", "#000080", "#FFA500", "#757575", "#458B00", "#0000CD", "#00FF7F", "#104E8B", "#CD96CD", "#008B8B", "#7CFC00"]
          },
          "legend": null
        }
      },
      "layer": [
        {"mark": {"type": "line", "strokeWidth": 1.2}},
        {"mark": {"type": "point", "filled": true, "size": 22, "opacity": 1}}
      ]
    }
  ],
  "config": {
    "view": {"stroke": "#333333", "strokeWidth": 1.1},
    "font": "Liberation Sans",
    "axis": {
      "domain": false,
      "grid": true,
      "gridColor": "#EBEBEB",
      "tickColor": "#333333",
      "tickSize": 4,
      "tickWidth": 1.1,
      "labelColor": "#4D4D4D",
      "labelFont": "Liberation Sans",
      "labelFontSize": 14,
      "labelPadding": 3,
      "titleFont": "Liberation Sans",
      "titleColor": "#000000",
      "titleFontWeight": "normal"
    },
    "axisX": {"titleFontSize": 17, "titlePadding": 3},
    "axisY": {"titleFontSize": 14, "titlePadding": 6},
    "title": {"font": "Liberation Serif", "fontSize": 20, "fontWeight": "normal", "color": "#000000"}
  }
}
